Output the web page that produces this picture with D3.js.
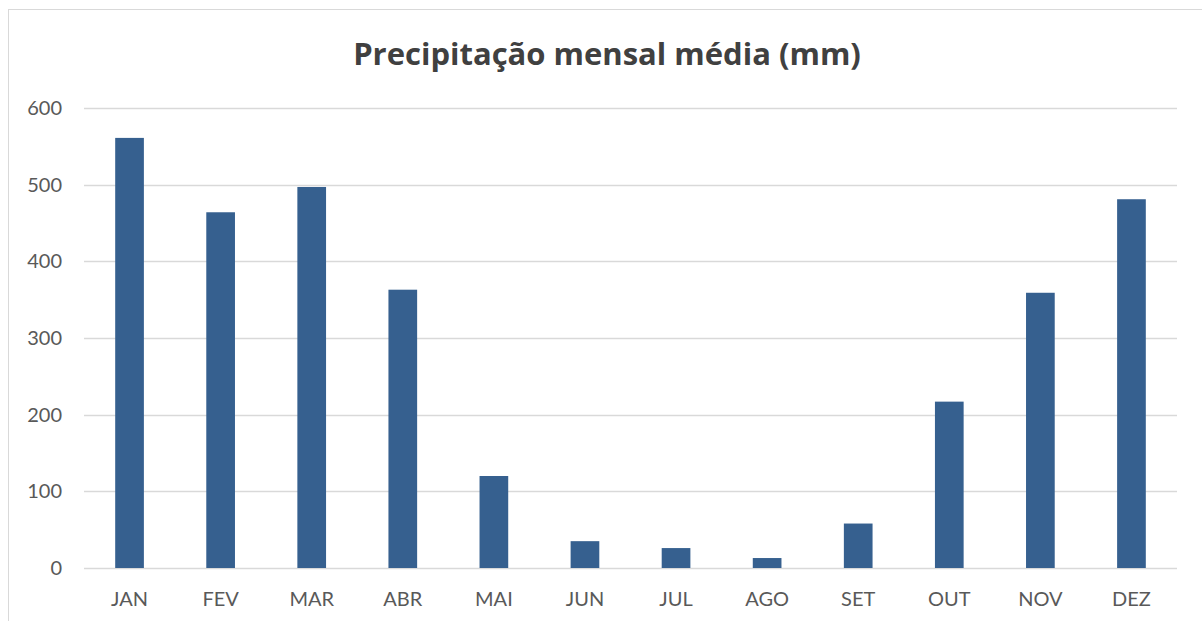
<!DOCTYPE html>
<html>
<head>
<meta charset="utf-8">
<script src="https://d3js.org/d3.v7.min.js"></script>
<style>
  body { margin: 0; background: #fff; }
  text { font-family: Lato, "Open Sans", sans-serif; }
</style>
</head>
<body>
<div id="chart"></div>
<script>
// monthly values
var months = ["JAN", "FEV", "MAR", "ABR", "MAI", "JUN", "JUL", "AGO", "SET", "OUT", "NOV", "DEZ"];
var rain = [561, 464, 497, 363, 120, 35, 26, 13, 58, 217, 359, 481];
var yTicks = [0, 100, 200, 300, 400, 500, 600];

var width = 1202, height = 621;
var margin = {top: 108, right: 25, bottom: 53, left: 84};

var svg = d3.select("#chart").append("svg")
    .attr("width", width)
    .attr("height", height);

// chart frame
svg.append("rect")
    .attr("x", 8.5)
    .attr("y", 9.5)
    .attr("width", width + 10)
    .attr("height", height + 10)
    .attr("fill", "#fff")
    .attr("stroke", "#d9d9d9")
    .attr("stroke-width", 1);

var x = d3.scaleBand()
    .domain(months)
    .range([margin.left, width - margin.right])
    .paddingInner(0.685)
    .paddingOuter(0.3425);

var y = d3.scaleLinear()
    .domain([0, 600])
    .range([height - margin.bottom, margin.top]);

//gridlines
svg.append("g")
    .selectAll("line")
    .data(yTicks)
    .enter()
    .append("line")
    .attr("x1", margin.left)
    .attr("x2", width - margin.right)
    .attr("y1", function(d){ return Math.round(y(d)) + 0.5; })
    .attr("y2", function(d){ return Math.round(y(d)) + 0.5; })
    .attr("stroke", "#d9d9d9")
    .attr("stroke-width", 1.3);

// y labels
svg.append("g")
    .selectAll("text")
    .data(yTicks)
    .enter()
    .append("text")
    .attr("x", 62)
    .attr("y", function(d){ return y(d); })
    .attr("dy", "0.35em")
    .attr("text-anchor", "end")
    .attr("font-size", 20)
    .attr("fill", "#595959")
    .text(function(d){ return d; });

// bars
svg.append("g")
    .selectAll("rect")
    .data(rain)
    .enter()
    .append("rect")
    .attr("x", function(d, i){ return x(months[i]); })
    .attr("width", x.bandwidth())
    .attr("y", function(d){ return y(d); })
    .attr("height", function(d){ return y(0) - y(d); })
    .attr("fill", "#36608f");

// x labels
svg.append("g")
    .selectAll("text")
    .data(months)
    .enter()
    .append("text")
    .attr("x", function(d){ return x(d) + x.bandwidth() / 2; })
    .attr("y", 606)
    .attr("text-anchor", "middle")
    .attr("font-size", 20)
    .attr("fill", "#595959")
    .text(function(d){ return d; });

svg.append("text")
    .attr("x", 607)
    .attr("y", 65)
    .attr("text-anchor", "middle")
    .attr("font-size", 31)
    .attr("font-weight", "bold")
    .attr("fill", "#404040")
    .style("font-family", "'Open Sans', sans-serif")
    .text("Precipitação mensal média (mm)");
</script>
</body>
</html>
